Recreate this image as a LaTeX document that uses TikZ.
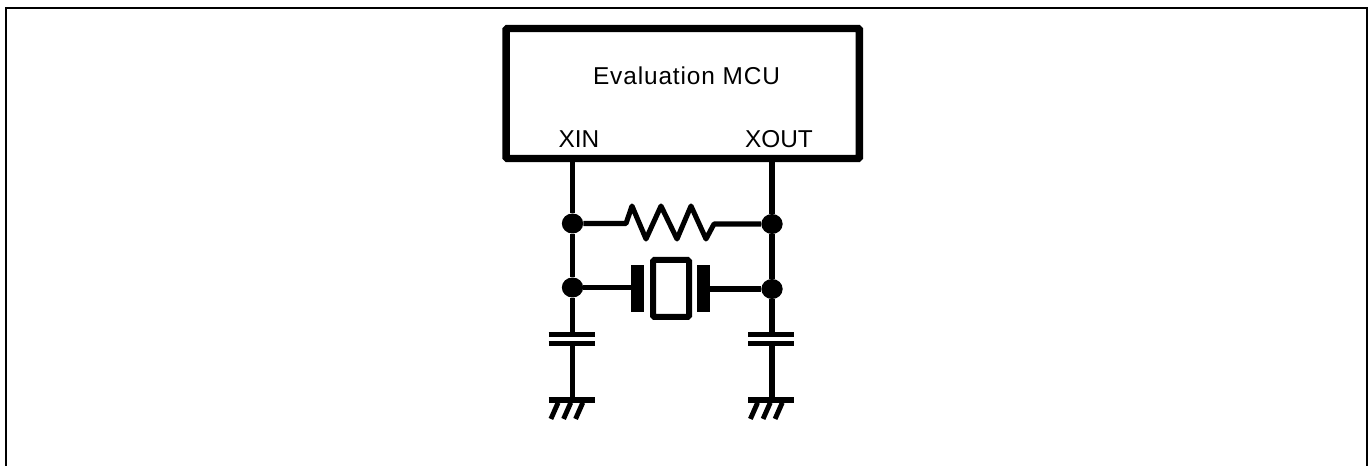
\documentclass[tikz,border=0pt]{standalone}
\usepackage{fontspec}
\setmainfont{Liberation Sans}
\usetikzlibrary{shapes.geometric}
\tikzset{
    wire/.style={line width=3.8pt},
    dot/.style={ellipse,fill=black,inner sep=0pt,minimum width=16pt,minimum height=15pt},
    plate/.style={fill=black,inner sep=0pt,minimum width=9.75pt,minimum height=35.25pt},
    lbl/.style={inner sep=0pt,font=\fontsize{18.3}{20}\selectfont},
}
\begin{document}
\begin{tikzpicture}[x=0.75pt,y=-0.75pt]
        \useasboundingbox (0,0) rectangle (1370,466);
        \draw[line width=1.9pt] (6.2,466) -- (6.2,7.8) -- (1367,7.8) -- (1367,466);

        \node[draw,line width=5.6pt,rounded corners=1pt,minimum width=265pt,minimum height=97.5pt,inner sep=0pt] (mcu) at (682.75,93.5) {};
        \node[lbl] (title) at (686.5,76) {\addfontfeatures{LetterSpace=3.6}Evaluation MCU};
        \node[lbl] (xin) at (579,139) {XIN};
        \node[lbl] (xout) at (779,139) {XOUT};

        % the two pins, each down to its ground bar
        \foreach \n/\x/\ya/\yb in {L/572.5/223.5/287.5,R/772/224/289} {
            \coordinate (top\n) at (\x,160);
            \node[dot] (res\n) at (\x,\ya) {};
            \node[dot] (xtal\n) at (\x,\yb) {};
            \coordinate (capa\n) at (\x,334.5);
            \coordinate (capb\n) at (\x,343.5);
            \coordinate (gnd\n) at (\x,400);
            \draw[wire] (top\n) -- (res\n) -- (xtal\n) -- (capa\n);
            \draw[wire] (capb\n) -- (gnd\n);
            \draw[wire] ([xshift=-18pt]capa\n) -- ([xshift=16.5pt]capa\n);
            \draw[wire] ([xshift=-18pt]capb\n) -- ([xshift=16.5pt]capb\n);
            \draw[wire] ([xshift=-18pt]gnd\n) -- ([xshift=16.5pt]gnd\n);
            \foreach \d in {0,9.5,18.5} {
                \draw[line width=3.7pt] ([xshift=-10.8pt+\d pt,yshift=-2pt]gnd\n) -- ([xshift=-16.2pt+\d pt,yshift=-14.2pt]gnd\n);
            }
        }

        % resistor
        \draw[wire,line join=round] (resL) -- (626,223.5) -- (632,206) -- (646,239) -- (661,206) -- (677,239) -- (691,206) -- (706,239) -- (714,224) -- (resR);

        % crystal
        \node[plate] (plateL) at (637.5,288.5) {};
        \node[plate] (plateR) at (703.5,288.5) {};
        \node[draw,line width=4.5pt,rounded corners=1pt,minimum width=27pt,minimum height=42.75pt,inner sep=0pt] (xtal) at (671,288.5) {};
        \draw[wire] (xtalL) -- (plateL.west |- xtalL);
        \draw[wire] (plateR.east |- xtalR) -- (xtalR);
\end{tikzpicture}
\end{document}
